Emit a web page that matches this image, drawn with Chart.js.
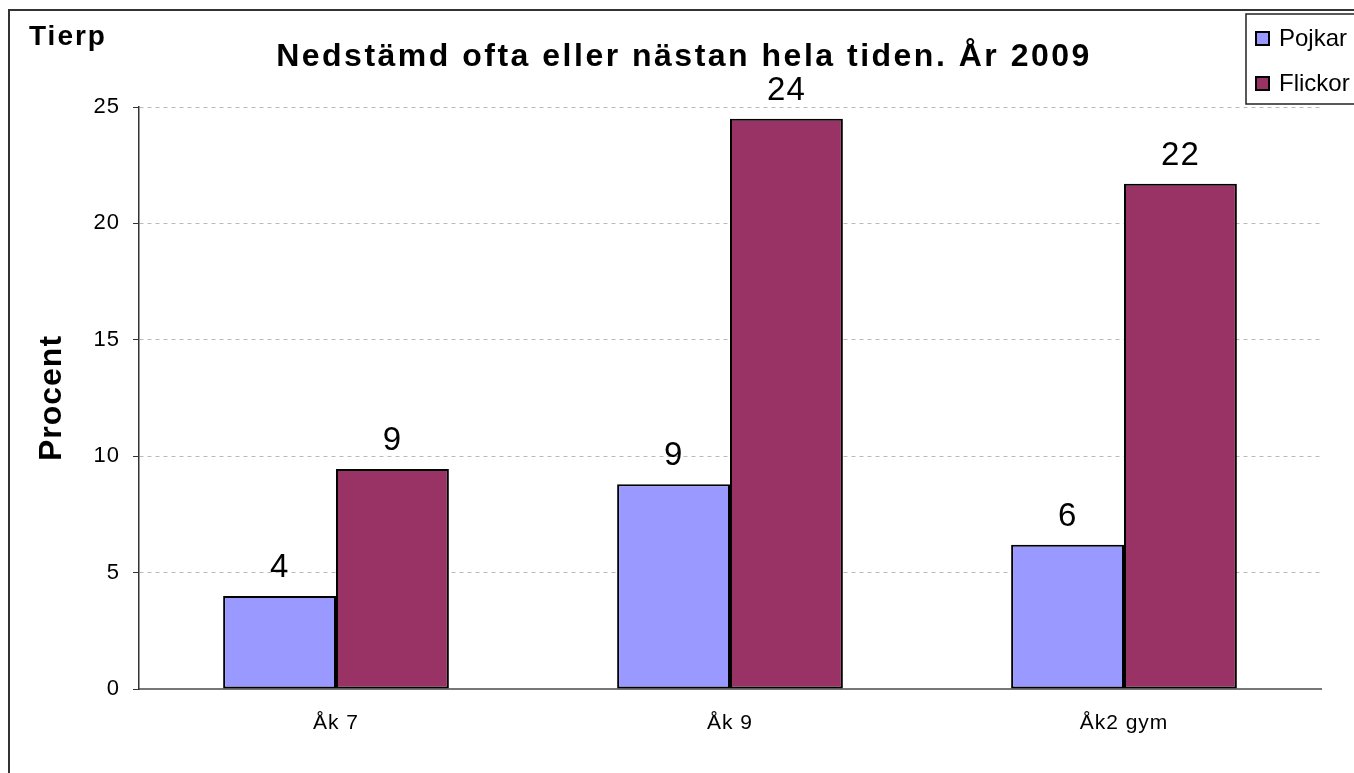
<!DOCTYPE html>
<html>
<head>
<meta charset="utf-8">
<script src="https://cdn.jsdelivr.net/npm/chart.js@4.4.1/dist/chart.umd.min.js"></script>
<style>
  html, body { margin: 0; padding: 0; background: #fff; }
  #wrap { width: 1354px; height: 773px; position: relative; }
</style>
</head>
<body>
<div id="wrap"><canvas id="chart"></canvas></div>
<script>
// data
const categories = ["Åk 7", "Åk 9", "Åk2 gym"];
const seriesNames = ["Pojkar", "Flickor"];
const pojkar = [4.0, 8.8, 6.2];
const flickor = [9.45, 24.49, 21.7];
const yTicks = [0, 5, 10, 15, 20, 25];

const titleText = "Nedstämd ofta eller nästan hela tiden. År 2009";
const barColors = ["#9999ff", "#993366"];
const font = "'Liberation Sans', Arial, sans-serif";

// frame, "Tierp" and title
const framePlugin = {
    id: "frame",
    beforeDraw(chart) {
        const ctx = chart.ctx;
        ctx.save();
        ctx.fillStyle = "#fff";
        ctx.fillRect(0, 0, chart.width, chart.height);
        ctx.strokeStyle = "#333";
        ctx.lineWidth = 2;
        ctx.strokeRect(9, 10, chart.width + 20, chart.height + 20);
        ctx.fillStyle = "#000";
        ctx.font = "bold 28px " + font;
        ctx.letterSpacing = "2px";
        ctx.textBaseline = "alphabetic";
        ctx.fillText("Tierp", 29, 45);
        ctx.font = "bold 32px " + font;
        ctx.letterSpacing = "2.5px";
        ctx.textAlign = "center";
        ctx.fillText(titleText, 684, 66);
        ctx.restore();
        // slightly wider text everywhere, like the original
        ctx.letterSpacing = "1px";
    }
};

// value labels above each bar
const valueLabels = {
    id: "valueLabels",
    afterDatasetsDraw(chart) {
        const ctx = chart.ctx;
        ctx.save();
        ctx.fillStyle = "#000";
        ctx.font = "33px " + font;
        ctx.textAlign = "center";
        ctx.textBaseline = "alphabetic";
        chart.data.datasets.forEach((ds, i) => {
            chart.getDatasetMeta(i).data.forEach((bar, j) => {
                ctx.fillText(Math.round(ds.data[j]), bar.x, bar.y - 19);
            });
        });
        ctx.restore();
    }
};

// boxed legend in the top right corner
const boxLegend = {
    id: "boxLegend",
    afterDraw(chart) {
        const ctx = chart.ctx;
        const x = 1246, y = 14, w = 120, h = 90;
        ctx.save();
        ctx.fillStyle = "#fff";
        ctx.fillRect(x, y, w, h);
        ctx.strokeStyle = "#222";
        ctx.lineWidth = 1.5;
        ctx.strokeRect(x, y, w, h);
        ctx.font = "24px " + font;
        ctx.letterSpacing = "0px";
        ctx.textBaseline = "middle";
        chart.data.datasets.forEach((ds, i) => {
            const cy = y + 24 + i * 45;
            ctx.fillStyle = ds.backgroundColor;
            ctx.fillRect(x + 10, cy - 6, 13, 13);
            ctx.lineWidth = 2;
            ctx.strokeStyle = "#000";
            ctx.strokeRect(x + 10, cy - 6, 13, 13);
            ctx.fillStyle = "#000";
            ctx.fillText(ds.label, x + 33, cy + 1);
        });
        ctx.restore();
    }
};

new Chart(document.getElementById("chart"), {
    type: "bar",
    plugins: [framePlugin, valueLabels, boxLegend],
    data: {
        labels: categories,
        datasets: [
            { label: seriesNames[0], data: pojkar, backgroundColor: barColors[0] },
            { label: seriesNames[1], data: flickor, backgroundColor: barColors[1] }
        ]
    },
    options: {
        responsive: true,
        maintainAspectRatio: false,
        animation: false,
        devicePixelRatio: 1,
        layout: { padding: { left: 0, right: 33, top: 107, bottom: 0 } },
        datasets: {
            bar: {
                borderColor: "#000",
                borderWidth: 2,
                borderSkipped: false,
                categoryPercentage: 0.573,
                barPercentage: 1.0
            }
        },
        plugins: {
            legend: { display: false },
            tooltip: { enabled: false },
            title: { display: false }
        },
        scales: {
            x: {
                grid: { display: false, drawTicks: false },
                border: { color: "#777", width: 2 },
                ticks: {
                    color: "#000",
                    font: { family: font, size: 21 },
                    padding: 22
                },
                afterFit(scale) { scale.height = 84; }
            },
            y: {
                min: 0,
                max: 25,
                afterBuildTicks(scale) {
                    scale.ticks = yTicks.map(v => ({ value: v }));
                },
                grid: {
                    color: "#bbb",
                    tickColor: "#333",
                    tickLength: 6,
                    tickBorderDash: [],
                    drawTicks: true
                },
                border: { color: "#333", width: 1.5, dash: [4, 4] },
                ticks: {
                    color: "#000",
                    font: { family: font, size: 22 },
                    padding: 13
                },
                title: {
                    display: true,
                    text: "Procent",
                    color: "#000",
                    font: { family: font, size: 32, weight: "bold" },
                    padding: { top: 33, bottom: 0 }
                },
                afterFit(scale) { scale.width = 139; }
            }
        }
    }
});
</script>
</body>
</html>
